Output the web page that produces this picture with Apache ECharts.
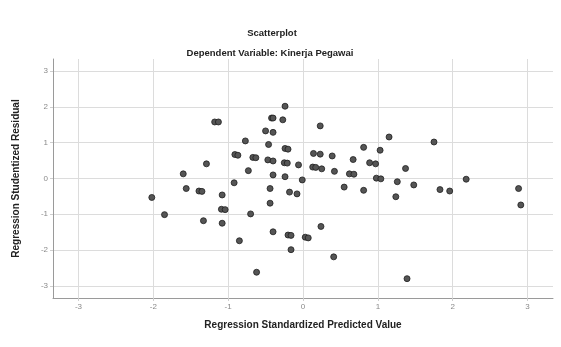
<!DOCTYPE html>
<html>
<head>
<meta charset="utf-8">
<script src="https://cdn.jsdelivr.net/npm/echarts@6/dist/echarts.min.js"></script>
<style>
  html, body { margin: 0; padding: 0; background: #fff; }
  #chart { width: 561px; height: 347px; }
</style>
</head>
<body>
<div id="chart"></div>
<script>
// standardized predicted value (x) and studentized residual (y)
const predicted = [
  -1.18, -1.13, -0.77, -0.91, -0.87, -0.67, -0.63, -0.73, -1.29, -1.60,
  -0.92, -1.56, -1.39, -1.35, -2.02, -1.08, -1.09, -1.04, -1.85, -1.33,
  -1.08, -0.70, -0.85, -0.62, -0.24, -0.42, -0.40, -0.27, 0.23, -0.50,
  -0.40, 1.15, -0.46, -0.24, -0.20, 0.81, 1.03, -0.47, -0.40, 0.14,
  0.23, 0.39, 0.67, -0.25, -0.21, -0.06, 0.13, 0.17, 0.25, 0.89,
  0.97, 0.42, 0.62, 0.68, -0.40, -0.24, -0.01, 0.98, 1.04, 1.26,
  -0.44, 0.55, 0.81, -0.18, -0.08, -0.44, 1.24, 1.48, 1.83, 1.96,
  2.88, 2.91, -0.40, -0.20, -0.16, 0.03, 0.07, 0.24, -0.16, 0.41,
  1.39, 1.75, 1.37, 2.18
];
const residuals = [
  1.58, 1.58, 1.05, 0.67, 0.65, 0.59, 0.58, 0.22, 0.41, 0.13,
  -0.12, -0.28, -0.35, -0.36, -0.53, -0.46, -0.86, -0.87, -1.01, -1.18,
  -1.25, -0.99, -1.74, -2.62, 2.02, 1.69, 1.69, 1.64, 1.47, 1.33,
  1.29, 1.16, 0.95, 0.84, 0.82, 0.87, 0.79, 0.52, 0.49, 0.70,
  0.68, 0.63, 0.53, 0.44, 0.43, 0.38, 0.32, 0.31, 0.27, 0.44,
  0.41, 0.20, 0.13, 0.12, 0.10, 0.05, -0.04, 0.01, -0.01, -0.09,
  -0.28, -0.24, -0.33, -0.38, -0.43, -0.69, -0.51, -0.18, -0.31, -0.35,
  -0.28, -0.74, -1.49, -1.58, -1.59, -1.64, -1.66, -1.34, -1.99, -2.19,
  -2.80, 1.02, 0.28, -0.02
];
const axisMin = -3.34;
const axisMax = 3.34;

const points = predicted.map((x, i) => [x, residuals[i]]);

const chart = echarts.init(document.getElementById('chart'), null, { renderer: 'canvas' });

const tickLabel = {
  color: '#8a8a8a',
  fontSize: 8,
  fontFamily: 'Liberation Sans, Arial, sans-serif',
  showMinLabel: false,
  showMaxLabel: false,
  margin: 5,
  formatter: v => (Math.abs(v - Math.round(v)) < 1e-6 ? String(Math.round(v)) : '')
};

const axisCommon = {
  type: 'value',
  min: axisMin,
  max: axisMax,
  splitNumber: 6,
  nameLocation: 'middle',
  nameTextStyle: {
    color: '#222',
    fontSize: 10,
    fontWeight: 'bold',
    fontFamily: 'Liberation Sans, Arial, sans-serif'
  },
  axisLine: { show: true, onZero: false, lineStyle: { color: '#9a9a9a', width: 1 } },
  axisTick: { show: true, length: 3, lineStyle: { color: '#cfcfcf' } },
  splitLine: {
    show: true,
    showMinLine: false,
    showMaxLine: false,
    lineStyle: { color: '#dcdcdc', width: 1 }
  },
  axisLabel: tickLabel
};

const option = {
  backgroundColor: '#fff',
  animation: false,
  title: [
    {
      text: 'Scatterplot',
      left: 267, top: 23,
      textAlign: 'center',
      textStyle: { fontSize: 9.5, fontWeight: 'bold', color: '#222', fontFamily: 'Liberation Sans, Arial, sans-serif' }
    },
    {
      text: 'Dependent Variable: Kinerja Pegawai',
      left: 265, top: 43,
      textAlign: 'center',
      textStyle: { fontSize: 9.5, fontWeight: 'bold', color: '#222', fontFamily: 'Liberation Sans, Arial, sans-serif' }
    }
  ],
  grid: { left: 53, right: 8, top: 59, bottom: 49, containLabel: false },
  xAxis: Object.assign({}, axisCommon, {
    name: 'Regression Standardized Predicted Value',
    nameGap: 22
  }),
  yAxis: Object.assign({}, axisCommon, {
    name: 'Regression Studentized Residual',
    nameGap: 32
  }),
  series: [
    {
      type: 'scatter',
      data: points,
      symbol: 'circle',
      symbolSize: 6,
      itemStyle: { color: '#555', borderColor: '#1e1e1e', borderWidth: 0.8, opacity: 1 }
    }
  ]
};

chart.setOption(option);
</script>
</body>
</html>
